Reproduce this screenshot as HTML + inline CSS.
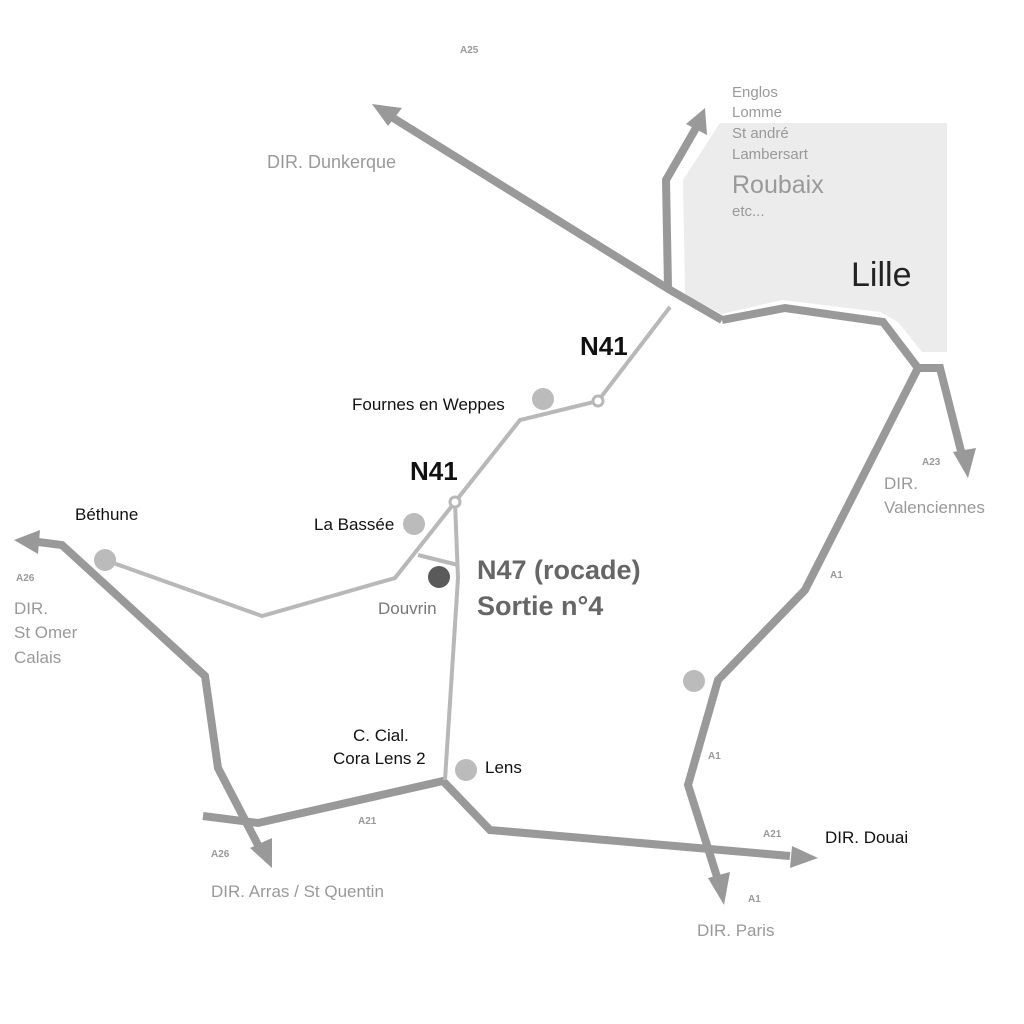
<!DOCTYPE html>
<html><head><meta charset="utf-8"><style>
html,body{margin:0;padding:0;background:#fff}
svg{display:block}
text{font-family:"Liberation Sans",sans-serif}
</style></head><body>
<svg width="1024" height="1024" viewBox="0 0 1024 1024" xmlns="http://www.w3.org/2000/svg">
<polygon points="720,123 947,123 947,352 922,352 898,322 880,312 782,300 722,314 685,295 683,180" fill="#ececec"/>
<g fill="none" stroke="#999" stroke-width="8" stroke-linejoin="miter">
<polyline points="722,320 670,290 390,116"/>
<polyline points="668,288 666,180 696,128"/>
<polyline points="722,320 785,308 883,322 918,368 940,368 962,455"/>
<polyline points="918,368 805,590 718,680 688,785 718,880"/>
<polyline points="203,816 258,823 443,781 490,830 790,856"/>
<polyline points="38,542 62,545 205,676 218,768 258,845"/>
</g>
<g fill="#999">
<polygon points="372,104 402,108 388,126"/>
<polygon points="705,108 707,135 686,124"/>
<polygon points="968,478 953,452 976,448"/>
<polygon points="724,905 708,878 730,872"/>
<polygon points="818,858 792,846 790,868"/>
<polygon points="14,540 40,530 38,554"/>
<polygon points="272,868 250,848 272,838"/>
</g>
<g fill="none" stroke="#b8b8b8" stroke-width="4">
<polyline points="670,307 598,401 520,420 455,502 395,578 262,616 105,560"/>
<polyline points="455,502 458,578 445,780"/>
<line x1="418" y1="555" x2="458" y2="565"/>
</g>
<circle cx="598" cy="401" r="5" fill="#fff" stroke="#b8b8b8" stroke-width="3"/>
<circle cx="455" cy="502" r="5" fill="#fff" stroke="#b8b8b8" stroke-width="3"/>
<g fill="#bbb">
<circle cx="543" cy="399" r="11"/>
<circle cx="414" cy="524" r="11"/>
<circle cx="105" cy="560" r="11"/>
<circle cx="694" cy="681" r="11"/>
<circle cx="466" cy="770" r="11"/>
</g>
<circle cx="439" cy="577" r="11" fill="#5a5a5a"/>
<g fill="#999" font-size="15">
<text x="732" y="97">Englos</text>
<text x="732" y="117">Lomme</text>
<text x="732" y="138">St andré</text>
<text x="732" y="159">Lambersart</text>
<text x="732" y="193" font-size="25">Roubaix</text>
<text x="732" y="216">etc...</text>
<text x="267" y="168" font-size="18">DIR. Dunkerque</text>
<text x="884" y="489" font-size="17">DIR.</text>
<text x="884" y="513" font-size="17">Valenciennes</text>
<text x="14" y="614" font-size="17">DIR.</text>
<text x="14" y="638" font-size="17">St Omer</text>
<text x="14" y="663" font-size="17">Calais</text>
<text x="211" y="897" font-size="17">DIR. Arras / St Quentin</text>
<text x="697" y="936" font-size="17">DIR. Paris</text>
<text x="378" y="614" font-size="17" fill="#777">Douvrin</text>
</g>
<g fill="#999" font-size="10" font-weight="bold">
<text x="460" y="53">A25</text>
<text x="922" y="465">A23</text>
<text x="830" y="578">A1</text>
<text x="708" y="759">A1</text>
<text x="748" y="902">A1</text>
<text x="763" y="837">A21</text>
<text x="358" y="824">A21</text>
<text x="16" y="581">A26</text>
<text x="211" y="857">A26</text>
</g>
<g fill="#111" font-size="17">
<text x="851" y="286" font-size="34" fill="#222">Lille</text>
<text x="352" y="410">Fournes en Weppes</text>
<text x="314" y="530">La Bassée</text>
<text x="75" y="520">Béthune</text>
<text x="353" y="741">C. Cial.</text>
<text x="333" y="764">Cora Lens 2</text>
<text x="485" y="773">Lens</text>
<text x="825" y="843">DIR. Douai</text>
</g>
<g font-weight="bold">
<text x="580" y="355" font-size="26" fill="#111">N41</text>
<text x="410" y="480" font-size="26" fill="#111">N41</text>
<text x="477" y="579" font-size="27" fill="#666">N47 (rocade)</text>
<text x="477" y="615" font-size="27" fill="#666">Sortie n°4</text>
</g>
</svg>
</body></html>
